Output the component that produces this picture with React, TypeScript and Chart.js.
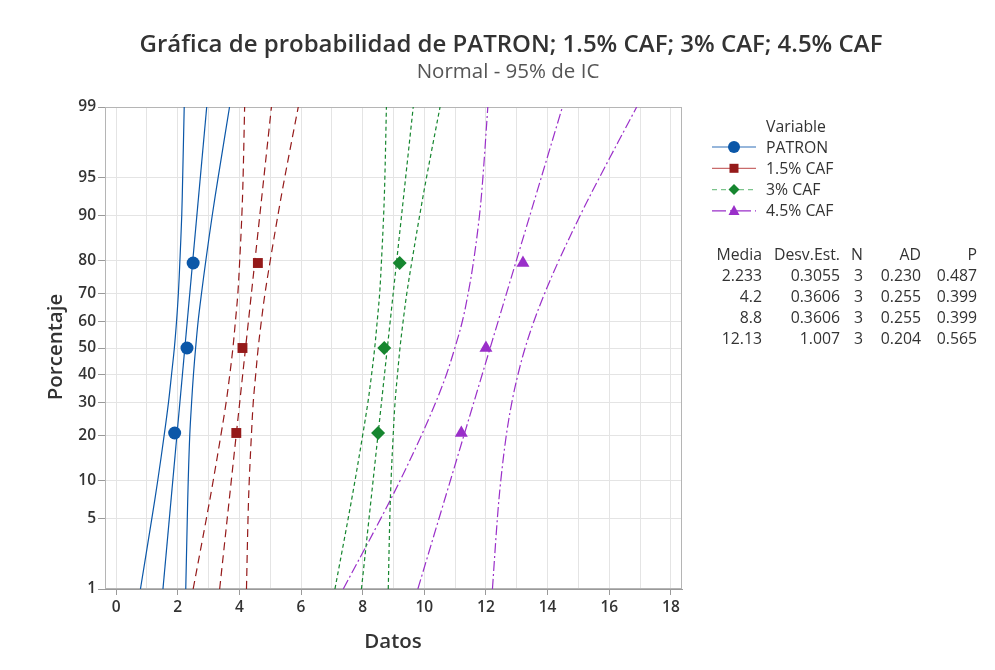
import React, { useEffect, useRef } from "react";
import { Chart, registerables, LinearScale } from "chart.js";

// ---------- data ----------
const yTickValues = [1, 5, 10, 20, 30, 40, 50, 60, 70, 80, 90, 95, 99];
const xTickValues = [0, 1, 2, 3, 4, 5, 6, 7, 8, 9, 10, 11, 12, 13, 14, 15, 16, 17, 18];
const rankPct = [20.6, 50, 79.4];
const fitPct = [1, 99];
const ciPct = [1, 5, 10, 20, 30, 40, 50, 60, 70, 80, 90, 95, 99];

const seriesNames = ["PATRON", "1.5% CAF", "3% CAF", "4.5% CAF"];

const patronData = [1.9, 2.3, 2.5];
const caf15Data = [3.9, 4.1, 4.6];
const caf3Data = [8.5, 8.7, 9.2];
const caf45Data = [11.2, 12.0, 13.2];

const patronFit = [1.52, 2.94];
const caf15Fit = [3.36, 5.04];
const caf3Fit = [7.96, 9.64];
const caf45Fit = [9.79, 14.48];

const patronLower = [0.79, 1.16, 1.35, 1.56, 1.7, 1.8, 1.89, 1.96, 2.02, 2.07, 2.13, 2.16, 2.21];
const patronUpper = [2.26, 2.31, 2.34, 2.39, 2.45, 2.51, 2.58, 2.66, 2.77, 2.91, 3.12, 3.31, 3.68];
const caf15Lower = [2.5, 2.93, 3.15, 3.4, 3.57, 3.69, 3.79, 3.87, 3.95, 4.01, 4.08, 4.12, 4.17];
const caf15Upper = [4.23, 4.28, 4.32, 4.39, 4.45, 4.53, 4.61, 4.71, 4.83, 5.0, 5.25, 5.47, 5.91];
const caf3Lower = [7.1, 7.53, 7.75, 8.0, 8.17, 8.29, 8.39, 8.47, 8.55, 8.61, 8.68, 8.72, 8.77];
const caf3Upper = [8.83, 8.88, 8.92, 8.99, 9.05, 9.13, 9.21, 9.31, 9.43, 9.6, 9.85, 10.07, 10.51];
const caf45Lower = [7.37, 8.59, 9.21, 9.91, 10.37, 10.72, 10.99, 11.23, 11.42, 11.6, 11.79, 11.9, 12.06];
const caf45Upper = [12.21, 12.37, 12.48, 12.66, 12.84, 13.04, 13.27, 13.55, 13.9, 14.36, 15.06, 15.68, 16.89];

const tableHeader = ["Media", "Desv.Est.", "N", "AD", "P"];
const mediaCol = ["2.233", "4.2", "8.8", "12.13"];
const desvCol = ["0.3055", "0.3606", "0.3606", "1.007"];
const nCol = ["3", "3", "3", "3"];
const adCol = ["0.230", "0.255", "0.255", "0.204"];
const pCol = ["0.487", "0.399", "0.399", "0.565"];

// ---------- styles ----------
const colors = ["#0B57A8", "#951A1A", "#16862F", "#9A2FC9"];
const legendLineColors = ["#2E6FB8", "#C96B6B", "#7CC48C", "#9A2FC9"];
const dashes: number[][] = [[], [8, 5], [4, 3], [10, 3, 2, 3]];
const legendDashes: number[][] = [[], [], [5, 4], [14, 4, 3, 4]];
const pointStyles = ["circle", "rect", "rectRot", "triangle"];
const pointRadii = [6.5, 7, 7, 7.5];

const FONT = "'Segoe UI', 'Open Sans', 'Noto Sans', sans-serif";
const TEXT = "#333333";

// ---------- probit scale ----------
function probit(p: number): number {
  const a = [-3.969683028665376e1, 2.209460984245205e2, -2.759285104469687e2, 1.38357751867269e2, -3.066479806614716e1, 2.506628277459239];
  const b = [-5.447609879822406e1, 1.615858368580409e2, -1.556989798598866e2, 6.680131188771972e1, -1.328068155288572e1];
  const c = [-7.784894002430293e-3, -3.223964580411365e-1, -2.400758277161838, -2.549732539343734, 4.374664141464968, 2.938163982698783];
  const d = [7.784695709041462e-3, 3.224671290700398e-1, 2.445134137142996, 3.754408661907416];
  const pl = 0.02425;
  if (p < pl) {
    const q = Math.sqrt(-2 * Math.log(p));
    return (((((c[0] * q + c[1]) * q + c[2]) * q + c[3]) * q + c[4]) * q + c[5]) / ((((d[0] * q + d[1]) * q + d[2]) * q + d[3]) * q + 1);
  }
  if (p <= 1 - pl) {
    const q = p - 0.5;
    const r = q * q;
    return ((((((a[0] * r + a[1]) * r + a[2]) * r + a[3]) * r + a[4]) * r + a[5]) * q) / (((((b[0] * r + b[1]) * r + b[2]) * r + b[3]) * r + b[4]) * r + 1);
  }
  const q = Math.sqrt(-2 * Math.log(1 - p));
  return -(((((c[0] * q + c[1]) * q + c[2]) * q + c[3]) * q + c[4]) * q + c[5]) / ((((d[0] * q + d[1]) * q + d[2]) * q + d[3]) * q + 1);
}

class ProbitScale extends LinearScale {
  static id = "probit";
  static defaults = {};
  buildTicks() {
    return yTickValues.map((v) => ({ value: v }));
  }
  getPixelForValue(value: number) {
    const zmin = probit(this.min / 100);
    const zmax = probit(this.max / 100);
    const z = probit(Math.min(Math.max(value, 0.0001), 99.9999) / 100);
    return this.getPixelForDecimal((z - zmin) / (zmax - zmin));
  }
  getValueForPixel(pixel: number) {
    const dec = this.getDecimalForPixel(pixel);
    return this.min + dec * (this.max - this.min);
  }
}

Chart.register(...registerables, ProbitScale as any);

function pts(xs: number[], ys: number[]) {
  return xs.map((x, i) => ({ x, y: ys[i] }));
}

const overlayPlugin = {
  id: "overlay",
  afterDraw(chart: any) {
    const ctx = chart.ctx as CanvasRenderingContext2D;
    ctx.save();
    // outer frame
    ctx.strokeStyle = "#d9d9d9";
    ctx.lineWidth = 1;
    ctx.beginPath();
    ctx.moveTo(7.5, 670);
    ctx.lineTo(7.5, 7.5);
    ctx.lineTo(995, 7.5);
    ctx.stroke();

    // titles
    ctx.fillStyle = TEXT;
    ctx.textAlign = "center";
    ctx.textBaseline = "alphabetic";
    ctx.font = `600 24px ${FONT}`;
    ctx.fillText("Gráfica de probabilidad de PATRON; 1.5% CAF; 3% CAF; 4.5% CAF", 511, 52);
    ctx.fillStyle = "#555555";
    ctx.font = `400 20.5px ${FONT}`;
    ctx.fillText("Normal - 95% de IC", 508, 78);

    // axis titles
    ctx.fillStyle = TEXT;
    ctx.font = `600 20.5px ${FONT}`;
    ctx.fillText("Datos", 393, 648);
    ctx.save();
    ctx.translate(62, 347);
    ctx.rotate(-Math.PI / 2);
    ctx.fillText("Porcentaje", 0, 0);
    ctx.restore();

    // legend
    ctx.textAlign = "left";
    ctx.font = `400 15.8px ${FONT}`;
    ctx.fillStyle = TEXT;
    ctx.textBaseline = "middle";
    ctx.fillText("Variable", 766, 127);
    for (let i = 0; i < seriesNames.length; i++) {
      const y = 147 + i * 21.3;
      ctx.save();
      ctx.strokeStyle = legendLineColors[i];
      ctx.lineWidth = 1.2;
      ctx.setLineDash(legendDashes[i]);
      ctx.beginPath();
      ctx.moveTo(712, y);
      ctx.lineTo(756, y);
      ctx.stroke();
      ctx.restore();
      ctx.fillStyle = colors[i];
      const r = i === 0 ? 6 : 5;
      ctx.beginPath();
      if (i === 0) {
        ctx.arc(734, y, r, 0, Math.PI * 2);
      } else if (i === 1) {
        ctx.rect(734 - 4.5, y - 4.5, 9, 9);
      } else if (i === 2) {
        ctx.moveTo(734, y - 5.5);
        ctx.lineTo(739.5, y);
        ctx.lineTo(734, y + 5.5);
        ctx.lineTo(728.5, y);
        ctx.closePath();
      } else {
        ctx.moveTo(734, y - 6);
        ctx.lineTo(739.5, y + 4);
        ctx.lineTo(728.5, y + 4);
        ctx.closePath();
      }
      ctx.fill();
      ctx.fillStyle = TEXT;
      ctx.fillText(seriesNames[i], 766, y + 1);
    }

    // stats table
    const colRight = [762, 840, 863, 921, 977];
    const cols = [mediaCol, desvCol, nCol, adCol, pCol];
    ctx.textAlign = "right";
    ctx.textBaseline = "middle";
    for (let c = 0; c < tableHeader.length; c++) {
      ctx.fillText(tableHeader[c], colRight[c], 255);
      for (let r = 0; r < cols[c].length; r++) {
        ctx.fillText(cols[c][r], colRight[c], 276 + r * 21.3);
      }
    }
    ctx.restore();
  },
};

export default function App() {
  const ref = useRef<HTMLCanvasElement | null>(null);
  useEffect(() => {
    if (!ref.current) return;
    const datasets: any[] = [];
    const seriesData = [patronData, caf15Data, caf3Data, caf45Data];
    const fits = [patronFit, caf15Fit, caf3Fit, caf45Fit];
    const lowers = [patronLower, caf15Lower, caf3Lower, caf45Lower];
    const uppers = [patronUpper, caf15Upper, caf3Upper, caf45Upper];
    for (let i = 0; i < 4; i++) {
      const lineBase = {
        showLine: true,
        pointRadius: 0,
        borderColor: colors[i],
        borderWidth: 1.2,
        borderDash: dashes[i],
        fill: false,
        order: 2,
      };
      datasets.push({ ...lineBase, label: seriesNames[i] + " fit", data: pts(fits[i], fitPct) });
      datasets.push({ ...lineBase, tension: 0.35, label: seriesNames[i] + " lower", data: pts(lowers[i], ciPct) });
      datasets.push({ ...lineBase, tension: 0.35, label: seriesNames[i] + " upper", data: pts(uppers[i], ciPct) });
      datasets.push({
        label: seriesNames[i],
        data: pts(seriesData[i], rankPct),
        showLine: false,
        pointStyle: pointStyles[i],
        pointRadius: pointRadii[i],
        pointBackgroundColor: colors[i],
        pointBorderColor: colors[i],
        pointBorderWidth: 0,
        order: 1,
      });
    }
    const chart = new Chart(ref.current, {
      type: "scatter",
      data: { datasets },
      options: {
        responsive: false,
        animation: false,
        events: [],
        layout: { padding: { left: 0, top: 107, right: 313, bottom: 0 } },
        plugins: { legend: { display: false }, tooltip: { enabled: false }, title: { display: false } },
        scales: {
          x: {
            type: "linear",
            min: -0.36,
            max: 18.36,
            afterBuildTicks: (s: any) => {
              s.ticks = xTickValues.map((v) => ({ value: v }));
            },
            afterFit: (s: any) => {
              s.height = 81;
            },
            border: { display: true, color: "#9a9a9a", width: 1 },
            grid: {
              color: "#e4e4e4",
              lineWidth: 1,
              drawTicks: true,
              tickLength: 6,
              tickColor: (c: any) => (c.tick && c.tick.value % 2 === 0 ? "#9a9a9a" : "rgba(0,0,0,0)"),
            },
            ticks: {
              autoSkip: false,
              maxRotation: 0,
              padding: 3,
              color: TEXT,
              font: { family: FONT, size: 15.5, weight: "600" },
              callback: (v: any) => (Number(v) % 2 === 0 ? String(v) : ""),
            },
          },
          y: {
            type: "probit" as any,
            min: 1,
            max: 99,
            afterFit: (s: any) => {
              s.width = 105;
            },
            border: { display: true, color: "#9a9a9a", width: 1 },
            grid: { color: "#e4e4e4", lineWidth: 1, drawTicks: true, tickLength: 7, tickColor: "#9a9a9a" },
            ticks: {
              autoSkip: false,
              padding: 2,
              color: TEXT,
              font: { family: FONT, size: 15.5, weight: "600" },
              callback: (v: any) => String(v),
            },
          },
        },
      },
      plugins: [
        {
          id: "frame",
          beforeDatasetsDraw(chart: any) {
            const { ctx, chartArea } = chart;
            ctx.save();
            ctx.strokeStyle = "#b5b5b5";
            ctx.lineWidth = 1;
            ctx.strokeRect(chartArea.left + 0.5, chartArea.top + 0.5, chartArea.width - 1, chartArea.height - 1);
            ctx.restore();
          },
        },
        overlayPlugin,
      ],
    } as any);
    return () => chart.destroy();
  }, []);
  return (
    <div style={{ position: "relative", width: 995, height: 670, margin: -8, background: "#ffffff" }}>
      <canvas ref={ref} width={995} height={670} style={{ display: "block" }} />
    </div>
  );
}
